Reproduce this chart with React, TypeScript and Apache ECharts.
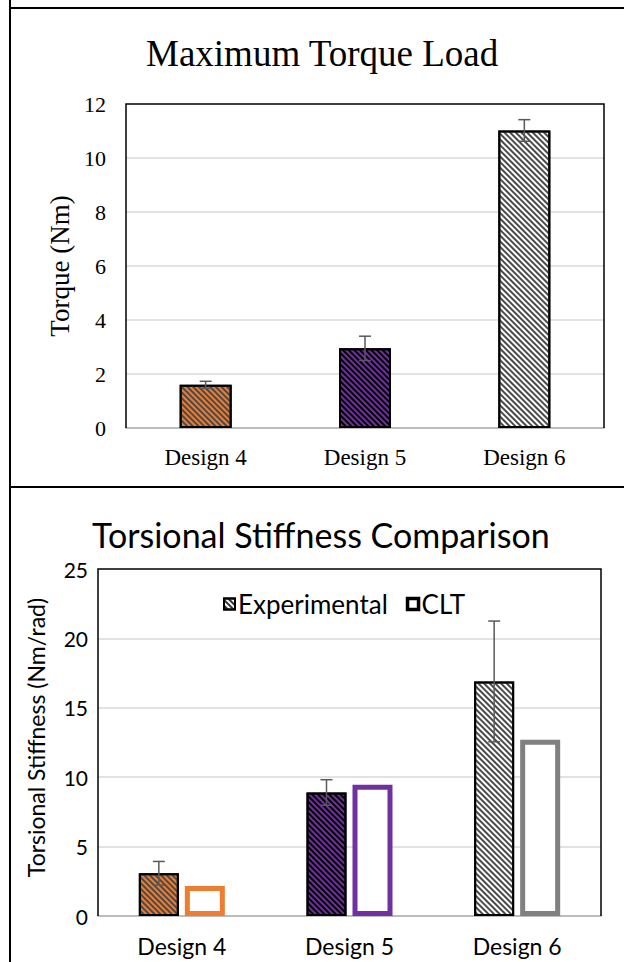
import React, { useEffect, useRef } from "react";
import * as echarts from "echarts";

// Categories and measured values
const designs = ["Design 4", "Design 5", "Design 6"];
const torque = [1.6, 2.95, 11.02];
const torqueErr = [0.13, 0.45, 0.4];
const stiffnessExp = [3.08, 8.9, 16.9];
const stiffnessErr = [0.85, 0.92, 4.35];
const stiffnessClt = [2.17, 9.45, 12.7];

// Per-design styling
const baseColors = ["#ED7D31", "#7030A0", "#FFFFFF"];
const stripeColors = ["#4A4A4A", "#000000", "#4A4A4A"];
const cltColors = ["#ED7D31", "#7030A0", "#808080"];

const hatch = (stripe: string) => ({
  symbol: "rect",
  symbolSize: 1,
  dashArrayX: [1, 0],
  dashArrayY: [2, 2],
  rotation: Math.PI / 4,
  color: stripe,
});

const SERIF = "'Liberation Serif', 'Times New Roman', serif";
const SANS = "'Lato', 'Open Sans', sans-serif";

const errStyle = { stroke: "#595959", lineWidth: 1.5 };
const frameStyle = { stroke: "#000", lineWidth: 2, fill: "none" };

function errorBars(
  values: number[],
  errs: number[],
  xAxisIndex: number,
  offset: number,
  half: number
) {
  return {
    type: "custom",
    xAxisIndex,
    yAxisIndex: xAxisIndex,
    z: 10,
    silent: true,
    encode: { x: 0, y: [1, 2] },
    data: values.map((v, i) => [i, v - errs[i], v + errs[i]]),
    renderItem: (_params: any, api: any) => {
      const lo = api.coord([api.value(0), api.value(1)]);
      const hi = api.coord([api.value(0), api.value(2)]);
      const x = lo[0] + offset;
      return {
        type: "group",
        children: [
          { type: "line", shape: { x1: x, y1: lo[1], x2: x, y2: hi[1] }, style: errStyle },
          { type: "line", shape: { x1: x - half, y1: hi[1], x2: x + half, y2: hi[1] }, style: errStyle },
          { type: "line", shape: { x1: x - half, y1: lo[1], x2: x + half, y2: lo[1] }, style: errStyle },
        ],
      };
    },
  };
}

const grids = [
  { left: 126, top: 104, width: 478, height: 324 },
  { left: 98, top: 569, width: 503, height: 347 },
];

export default function App() {
  const ref = useRef<HTMLDivElement>(null);

  useEffect(() => {
    if (!ref.current) return;
    const chart = echarts.init(ref.current, undefined, { renderer: "svg" });

    const option: any = {
      animation: false,
      backgroundColor: "#ffffff",
      title: [
        {
          text: "Maximum Torque Load",
          left: 141,
          top: 30,
          textStyle: { fontFamily: SERIF, fontSize: 37, fontWeight: "normal", color: "#000" },
        },
        {
          text: "Torsional Stiffness Comparison",
          left: 87,
          top: 512,
          textStyle: { fontFamily: SANS, fontSize: 34, fontWeight: "normal", color: "#000" },
        },
      ],
      legend: {
        left: 218,
        top: 586,
        itemWidth: 11,
        itemHeight: 11,
        itemGap: 18,
        icon: "rect",
        textStyle: { fontFamily: SANS, fontSize: 26, color: "#000", padding: [0, 0, 0, -2] },
        data: [
          {
            name: "Experimental",
            itemStyle: { color: "#FFFFFF", decal: hatch("#303030"), borderColor: "#000", borderWidth: 2 },
          },
          {
            name: "CLT",
            itemStyle: { color: "#FFFFFF", borderColor: "#000", borderWidth: 3.5 },
          },
        ],
      },
      grid: grids.map((g) => ({ ...g, show: false })),
      xAxis: [
        {
          type: "category",
          gridIndex: 0,
          data: designs,
          axisTick: { show: false },
          axisLine: { lineStyle: { color: "#A6A6A6", width: 1.5 } },
          axisLabel: { fontFamily: SERIF, fontSize: 23, color: "#000", margin: 18 },
        },
        {
          type: "category",
          gridIndex: 1,
          data: designs,
          axisTick: { show: false },
          axisLine: { lineStyle: { color: "#A6A6A6", width: 1.5 } },
          axisLabel: { fontFamily: SANS, fontSize: 23, color: "#000", margin: 18 },
        },
      ],
      yAxis: [
        {
          type: "value",
          gridIndex: 0,
          min: 0,
          max: 12,
          interval: 2,
          name: "Torque (Nm)",
          nameLocation: "middle",
          nameGap: 53,
          nameTextStyle: { fontFamily: SERIF, fontSize: 27, color: "#000" },
          axisLine: { show: false },
          axisTick: { show: false },
          splitLine: { showMinLine: false, showMaxLine: false, lineStyle: { color: "#D9D9D9", width: 1.5 } },
          axisLabel: { fontFamily: SERIF, fontSize: 22, color: "#000", margin: 20 },
        },
        {
          type: "value",
          gridIndex: 1,
          min: 0,
          max: 25,
          interval: 5,
          name: "Torsional Stiffness (Nm/rad)",
          nameLocation: "middle",
          nameGap: 51,
          nameTextStyle: { fontFamily: SANS, fontSize: 23, color: "#000", padding: [0, 0, 0, 10] },
          axisLine: { show: false },
          axisTick: { show: false },
          splitLine: { showMinLine: false, showMaxLine: false, lineStyle: { color: "#D9D9D9", width: 1.5 } },
          axisLabel: { fontFamily: SANS, fontSize: 21, color: "#000", margin: 10 },
        },
      ],
      series: [
        {
          name: "Torque",
          type: "bar",
          xAxisIndex: 0,
          yAxisIndex: 0,
          barWidth: 52,
          data: torque.map((v, i) => ({
            value: v,
            itemStyle: {
              color: baseColors[i],
              decal: hatch(stripeColors[i]),
              borderColor: "#000",
              borderWidth: 2,
            },
          })),
        },
        errorBars(torque, torqueErr, 0, 0, 6),
        {
          name: "Experimental",
          type: "bar",
          xAxisIndex: 1,
          yAxisIndex: 1,
          barWidth: 40,
          barGap: "15%",
          data: stiffnessExp.map((v, i) => ({
            value: v,
            itemStyle: {
              color: baseColors[i],
              decal: hatch(stripeColors[i]),
              borderColor: "#000",
              borderWidth: 2,
            },
          })),
        },
        {
          name: "CLT",
          type: "bar",
          xAxisIndex: 1,
          yAxisIndex: 1,
          barWidth: 40,
          data: stiffnessClt.map((v, i) => ({
            value: v,
            itemStyle: { color: "#FFFFFF", borderColor: cltColors[i], borderWidth: 5 },
          })),
        },
        errorBars(stiffnessExp, stiffnessErr, 1, -23, 6),
      ],
      graphic: [
        // plot-area frames (top, left, right edges in black)
        ...grids.map((g) => ({
          type: "polyline",
          shape: {
            points: [
              [g.left, g.top + g.height],
              [g.left, g.top],
              [g.left + g.width, g.top],
              [g.left + g.width, g.top + g.height],
            ],
          },
          style: { stroke: "#000", lineWidth: 1.5, fill: "none" },
          z: 1,
        })),
        // outer panel frame and divider
        { type: "line", shape: { x1: 10, y1: 0, x2: 10, y2: 962 }, style: frameStyle, z: 100 },
        { type: "line", shape: { x1: 10, y1: 8, x2: 624, y2: 8 }, style: frameStyle, z: 100 },
        { type: "line", shape: { x1: 10, y1: 487, x2: 624, y2: 487 }, style: frameStyle, z: 100 },
      ],
    };

    chart.setOption(option);
    return () => chart.dispose();
  }, []);

  return (
    <div
      ref={ref}
      style={{ position: "fixed", left: 0, top: 0, width: 624, height: 962, background: "#fff" }}
    />
  );
}
